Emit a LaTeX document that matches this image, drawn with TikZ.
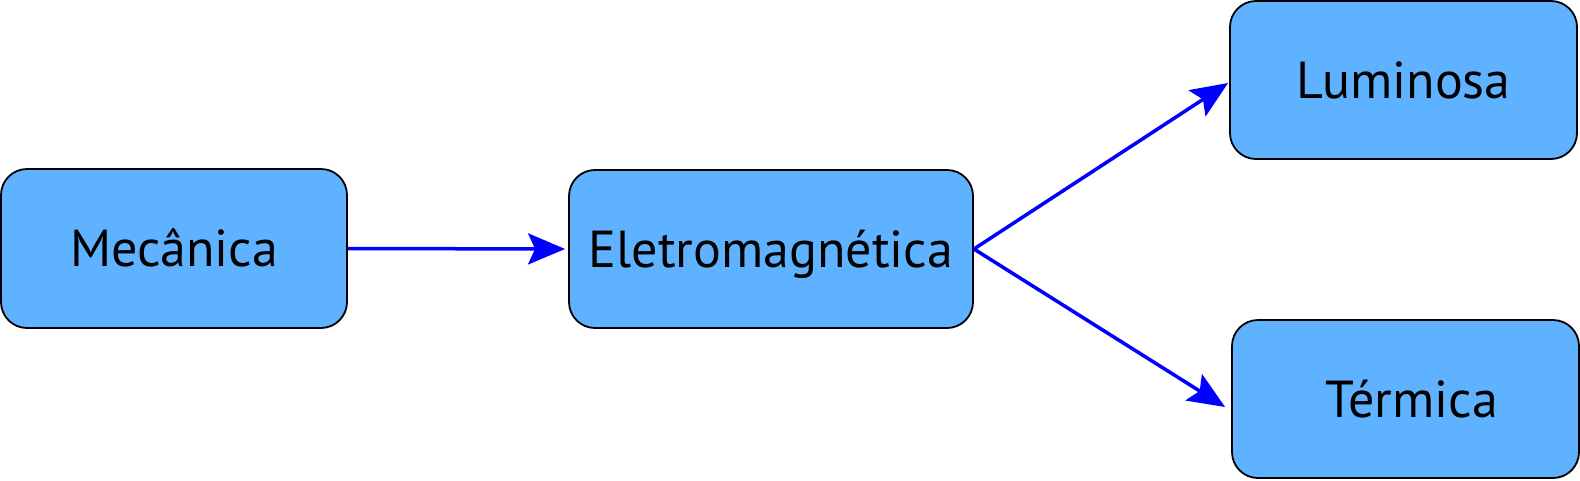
\documentclass[tikz,border=0pt]{standalone}
\usepackage{fontspec}
\setmainfont{PT Sans}
\usetikzlibrary{arrows.meta}
\definecolor{boxfill}{RGB}{94,178,255}
\definecolor{arrowblue}{RGB}{0,0,255}
\tikzset{
  box/.style={draw=black, line width=1.8pt, fill=boxfill, rounded corners=26pt,
    inner sep=0pt, text height=36pt, text depth=0pt,
    font=\fontsize{52}{62}\selectfont},
  flow/.style={draw=arrowblue, line width=3.5pt,
    -{Stealth[length=37pt, width=31pt, inset=7pt]}}
}
\begin{document}
\begin{tikzpicture}[x=1pt,y=-1pt]
\useasboundingbox (0,0) rectangle (1580,480);
\node[box, minimum width=346pt, minimum height=159pt] (meca) at (174,248.5) {Mecânica};
\node[box, minimum width=404pt, minimum height=158pt] (eletro) at (771,249) {Eletromagnética};
\node[box, minimum width=347pt, minimum height=158pt] (lumi) at (1403.5,80) {Luminosa};
\node[box, minimum width=347pt, minimum height=158pt] (term) at (1405.5,399) {\hspace*{12pt}Térmica};
\draw[flow, shorten >=3pt] (meca.east) -- (eletro.west);
\draw[flow] (eletro.east) -- ([xshift=-1pt,yshift=-3pt]lumi.west);
\draw[flow] (eletro.east) -- ([xshift=-6pt,yshift=-8pt]term.west);
\end{tikzpicture}
\end{document}
